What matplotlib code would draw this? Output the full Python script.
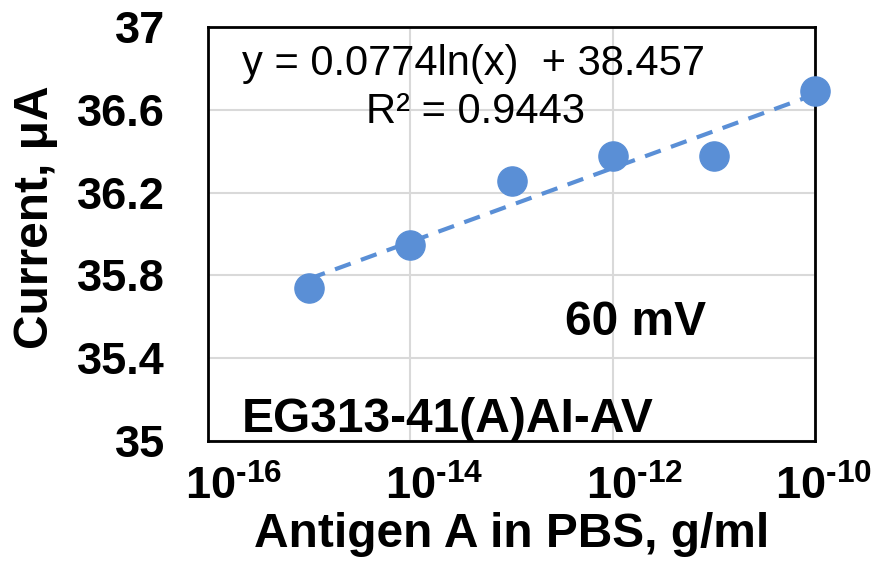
import numpy as np
import matplotlib
matplotlib.use('Agg')
import matplotlib.pyplot as plt
from matplotlib.transforms import ScaledTranslation

# data
conc = [1e-15, 1e-14, 1e-13, 1e-12, 1e-11, 1e-10]          # g/ml
current = [35.74, 35.945, 36.255, 36.375, 36.375, 36.69]    # uA
slope, intercept = 0.0774, 38.457                            # displayed log trendline
x_ticks = [1e-16, 1e-14, 1e-12, 1e-10]
x_labels = ['-16', '-14', '-12', '-10']
y_ticks = [35, 35.4, 35.8, 36.2, 36.6, 37]
y_labels = ['35', '35.4', '35.8', '36.2', '36.6', '37']

plt.rcParams['font.family'] = ['Liberation Sans', 'DejaVu Sans']
plt.rcParams['mathtext.fontset'] = 'custom'
plt.rcParams['mathtext.rm'] = 'Liberation Sans:bold'
plt.rcParams['mathtext.bf'] = 'Liberation Sans:bold'
plt.rcParams['mathtext.default'] = 'rm'

blue = '#5A8FD6'

fig = plt.figure(figsize=(8.8, 5.67), dpi=100)
ax = fig.add_axes([0.2364, 0.2222, 0.6898, 0.7302])

# trendline
xt = np.logspace(np.log10(conc[0]), np.log10(conc[-1]), 50)
ax.plot(xt, slope * np.log(xt) + intercept, color=blue, lw=3, ls=(0, (4, 2.6)), zorder=2)
ax.plot(conc, current, 'o', color=blue, ms=21, zorder=3, clip_on=False)

ax.set_xscale('log')
ax.set_xlim(1e-16, 1e-10)
ax.set_ylim(35, 37)
ax.set_xticks(x_ticks)
ax.set_xticklabels([r'$10^{\text{%s}}$' % s for s in x_labels])
ax.minorticks_off()
ax.set_yticks(y_ticks)
ax.set_yticklabels(y_labels)
ax.tick_params(axis='y', length=0, labelsize=32.5, pad=31)
ax.tick_params(axis='x', length=0, labelsize=32.5, pad=18)
for lab in ax.get_yticklabels():
    lab.set_fontweight('bold')
# tick labels in the original sit a bit right of their ticks
for lab, dx in zip(ax.get_xticklabels(), [26, 24, 22, 8]):
    lab.set_transform(lab.get_transform() + ScaledTranslation(dx / 100, 0, fig.dpi_scale_trans))

ax.grid(True, color='#d9d9d9', lw=1.5)
ax.set_axisbelow(True)
for sp in ax.spines.values():
    sp.set_linewidth(2)
    sp.set_color('black')

ax.set_xlabel('Antigen A in PBS, g/ml', fontsize=34.5, fontweight='bold', labelpad=2)
ax.set_ylabel('Current, μA', fontsize=34.5, fontweight='bold')
ax.yaxis.set_label_coords((58 - 208) / 607, (441 - 217) / 414)

ax.text(0.437, 0.884, 'y = 0.0774ln(x)  + 38.457', transform=ax.transAxes,
        ha='center', va='baseline', fontsize=30)
ax.text(0.441, 0.768, 'R² = 0.9443', transform=ax.transAxes,
        ha='center', va='baseline', fontsize=30)
ax.text(0.705, 0.256, '60 mV', transform=ax.transAxes,
        ha='center', va='baseline', fontsize=34.5, fontweight='bold')
ax.text(0.056, 0.022, 'EG313-41(A)AI-AV', transform=ax.transAxes,
        ha='left', va='baseline', fontsize=34.5, fontweight='bold')

fig.savefig('out.png', dpi=100)
